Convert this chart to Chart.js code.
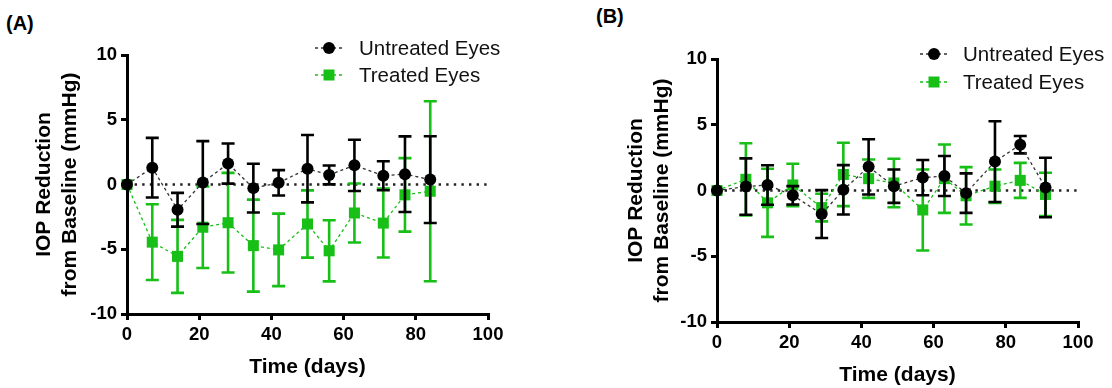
<!DOCTYPE html>
<html>
<head>
<meta charset="utf-8">
<script src="https://cdn.jsdelivr.net/npm/chart.js@4.4.1/dist/chart.umd.min.js"></script>
<style>
body{margin:0;background:#fff;width:1112px;height:388px;position:relative;overflow:hidden;font-family:"Liberation Sans",Arial,sans-serif}
canvas{position:absolute;top:0}
#chartA{left:0}
#chartB{left:556px}
.tag{position:absolute;font-weight:bold;font-size:20px;color:#000}
</style>
</head>
<body>
<div class="tag" style="left:6px;top:12px">(A)</div>
<div class="tag" style="left:596px;top:5px">(B)</div>
<canvas id="chartA" width="556" height="388"></canvas>
<canvas id="chartB" width="556" height="388"></canvas>
<script>
const GREEN = '#17bf17';
const FONT = '"Liberation Sans", Arial, sans-serif';

// panel A
const daysA = [0, 7, 14, 21, 28, 35, 42, 50, 56, 63, 71, 77, 84];
const untreatedA = [0, 1.3, -1.95, 0.15, 1.62, -0.28, 0.13, 1.22, 0.74, 1.48, 0.68, 0.8, 0.38];
const untreatedErrA = [0, 2.3, 1.3, 3.2, 1.55, 1.88, 0.98, 2.6, 0.73, 1.98, 1.12, 2.92, 3.35];
const treatedA = [0, -4.45, -5.55, -3.3, -2.95, -4.72, -5.05, -3.05, -5.12, -2.2, -2.98, -0.8, -0.52];
const treatedErrA = [0, 2.92, 2.82, 3.15, 3.85, 3.55, 2.8, 2.6, 2.36, 2.28, 2.66, 2.84, 6.95];

// panel B
const daysB = [0, 8, 14, 21, 29, 35, 42, 49, 57, 63, 69, 77, 84, 91];
const untreatedB = [0, 0.3, 0.42, -0.37, -1.79, 0.05, 1.8, 0.33, 0.98, 1.1, -0.2, 2.2, 3.48, 0.23];
const untreatedErrB = [0, 2.14, 1.5, 0.7, 1.82, 1.88, 2.1, 1.27, 1.34, 1.52, 1.5, 3.07, 0.66, 2.26];
const treatedB = [0, 0.85, -0.94, 0.42, -1.3, 1.22, 0.9, 0.57, -1.48, 0.9, -0.4, 0.33, 0.77, -0.3];
const treatedErrB = [0, 2.74, 2.59, 1.61, 1.05, 2.41, 1.46, 1.84, 3.08, 2.6, 2.18, 1.27, 1.33, 1.65];

const xTicks = [0, 20, 40, 60, 80, 100];
const yTicks = [-10, -5, 0, 5, 10];

const pts = (xs, ys) => xs.map((x, i) => ({x: x, y: ys[i]}));

// SEM bars with caps, drawn just before each series so the markers sit on top
const errorBars = {
    id: 'errorBars',
    beforeDatasetDraw(chart, args) {
        const ds = chart.data.datasets[args.index];
        if (!ds.err) return;
        const ctx = chart.ctx, xs = chart.scales.x, ys = chart.scales.y;
        ctx.save();
        ctx.strokeStyle = ds.errColor;
        ctx.lineWidth = 2.6;
        ctx.setLineDash([]);
        ds.data.forEach((p, i) => {
            const e = ds.err[i];
            if (!e) return;
            const px = xs.getPixelForValue(p.x);
            const top = ys.getPixelForValue(p.y + e);
            const bot = ys.getPixelForValue(p.y - e);
            ctx.beginPath();
            ctx.moveTo(px, top); ctx.lineTo(px, bot);
            ctx.moveTo(px - 6.5, top); ctx.lineTo(px + 6.5, top);
            ctx.moveTo(px - 6.5, bot); ctx.lineTo(px + 6.5, bot);
            ctx.stroke();
        });
        ctx.restore();
    }
};

// dotted baseline at 0
const zeroLine = {
    id: 'zeroLine',
    beforeDatasetsDraw(chart) {
        const ctx = chart.ctx, xs = chart.scales.x;
        const y = chart.scales.y.getPixelForValue(0);
        ctx.save();
        ctx.strokeStyle = '#222';
        ctx.lineWidth = 2.4;
        ctx.setLineDash([2.4, 5.2]);
        ctx.beginPath();
        ctx.moveTo(xs.getPixelForValue(0), y);
        ctx.lineTo(xs.getPixelForValue(100), y);
        ctx.stroke();
        ctx.restore();
    }
};

// legend: dashed line with marker, then label
const keyBox = {
    id: 'keyBox',
    afterDraw(chart, args, opts) {
        const ctx = chart.ctx;
        chart.data.datasets.forEach((ds, i) => {
            const y = opts.y + i * opts.gap;
            ctx.save();
            ctx.strokeStyle = ds.borderColor;
            ctx.lineWidth = 1.3;
            ctx.setLineDash([3, 3]);
            ctx.beginPath();
            ctx.moveTo(opts.x - 14, y); ctx.lineTo(opts.x + 14, y);
            ctx.stroke();
            ctx.setLineDash([]);
            ctx.fillStyle = ds.pointBackgroundColor;
            if (ds.pointStyle === 'rect') {
                ctx.fillRect(opts.x - 5.5, y - 5.5, 11, 11);
            } else {
                ctx.beginPath();
                ctx.arc(opts.x, y, 6, 0, Math.PI * 2);
                ctx.fill();
            }
            ctx.fillStyle = '#111';
            ctx.font = '20.5px ' + FONT;
            ctx.textBaseline = 'middle';
            ctx.fillText(ds.label, opts.x + opts.textGap, y + 1);
            ctx.restore();
        });
    }
};

function makePanel(id, days, u, uErr, t, tErr, cfg) {
    const axisGrid = {drawOnChartArea: false, drawTicks: true, tickLength: 6, lineWidth: 3, color: '#000'};
    const tickFont = {family: FONT, size: 18.5, weight: 'bold'};
    return new Chart(document.getElementById(id), {
        type: 'line',
        data: {
            datasets: [{
                label: 'Untreated Eyes',
                data: pts(days, u),
                err: uErr,
                errColor: '#000',
                borderColor: '#333',
                borderWidth: 1.3,
                borderDash: [3, 3],
                pointStyle: 'circle',
                pointRadius: 6,
                pointBackgroundColor: '#000',
                pointBorderColor: '#000',
                pointBorderWidth: 0,
                tension: 0,
                clip: false
            }, {
                label: 'Treated Eyes',
                data: pts(days, t),
                err: tErr,
                errColor: GREEN,
                borderColor: GREEN,
                borderWidth: 1.3,
                borderDash: [3, 3],
                pointStyle: 'rect',
                pointRadius: 7.8,
                pointBackgroundColor: GREEN,
                pointBorderColor: GREEN,
                pointBorderWidth: 0,
                tension: 0,
                clip: false
            }]
        },
        options: {
            responsive: false,
            animation: false,
            events: [],
            layout: {padding: {left: 0, top: cfg.top, right: cfg.right, bottom: 0}},
            scales: {
                x: {
                    type: 'linear', min: 0, max: 100,
                    afterBuildTicks: s => { s.ticks = xTicks.map(v => ({value: v})); },
                    afterFit: s => { s.height = cfg.xHeight; },
                    ticks: {color: '#000', font: tickFont, padding: 4, maxRotation: 0},
                    grid: axisGrid,
                    border: {width: 3, color: '#000'},
                    title: {display: true, text: 'Time (days)', color: '#000',
                        font: {family: FONT, size: 21, weight: 'bold'}, padding: {top: 0, bottom: cfg.xTitlePad}}
                },
                y: {
                    min: -10, max: 10,
                    afterBuildTicks: s => { s.ticks = yTicks.map(v => ({value: v})); },
                    afterFit: s => { s.width = cfg.yWidth; },
                    ticks: {color: '#000', font: tickFont, padding: 4},
                    grid: axisGrid,
                    border: {width: 3, color: '#000'},
                    title: {display: true, text: ['IOP Reduction', 'from Baseline (mmHg)'], color: '#000',
                        font: {family: FONT, size: 21, weight: 'bold', lineHeight: 1.2}, padding: {top: cfg.yTitlePad, bottom: 0}}
                }
            },
            plugins: {
                legend: {display: false},
                tooltip: {enabled: false},
                keyBox: {x: cfg.keyX, y: cfg.keyY, gap: cfg.keyGap, textGap: cfg.textGap}
            }
        },
        plugins: [zeroLine, errorBars, keyBox]
    });
}

makePanel('chartA', daysA, untreatedA, untreatedErrA, treatedA, treatedErrA,
    {top: 55, right: 68, xHeight: 74, xTitlePad: 8, yWidth: 127, yTitlePad: 32,
     keyX: 329, keyY: 48, keyGap: 27, textGap: 30});

makePanel('chartB', daysB, untreatedB, untreatedErrB, treatedB, treatedErrB,
    {top: 59, right: 34, xHeight: 66, xTitlePad: 0, yWidth: 161, yTitlePad: 68,
     keyX: 378, keyY: 54, keyGap: 28, textGap: 29});
</script>
</body>
</html>
